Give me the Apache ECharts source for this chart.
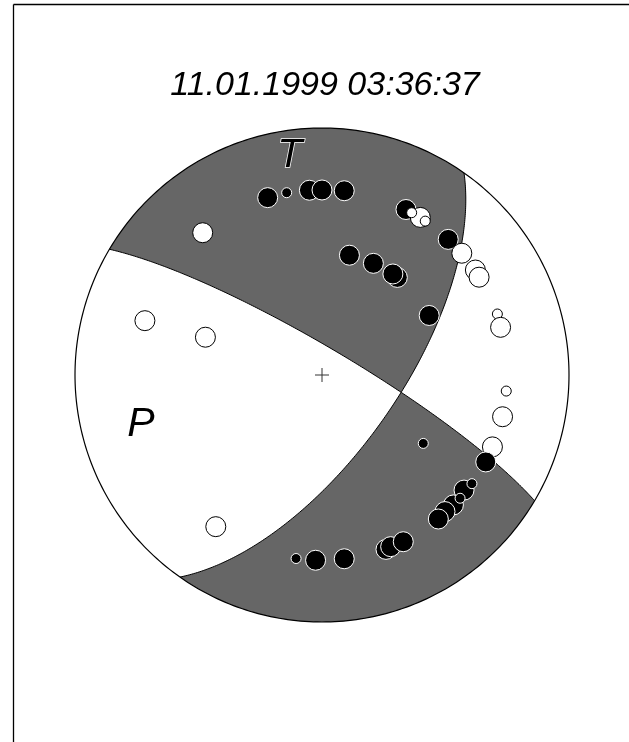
<!DOCTYPE html>
<html><head><meta charset="utf-8">
<script src="https://cdn.jsdelivr.net/npm/echarts@6/dist/echarts.min.js"></script>
<style>html,body{margin:0;padding:0;background:#fff}#c{width:629px;height:742px}</style>
</head><body><div id="c"></div>
<script>
// ---- data ----
const titleText = '11.01.1999 03:36:37';
const planeStrikes = [300.6, 35.1];   // degrees (right-hand rule)
const planeDips = [81, 65];           // degrees
const axisLabels = ['T', 'P'];
const axisLabelE = [-0.130, -0.733];  // unit-disc east coordinate
const axisLabelN = [0.887, -0.200];   // unit-disc north coordinate
// first-motion observations (unit-disc, lower hemisphere, equal-area)
const obsE = [-0.220,-0.143,-0.051,0.000,0.090,0.340,0.398,0.363,0.418,0.511,0.566,0.621,0.636,
  0.111,0.208,0.305,0.287,0.434,-0.483,-0.717,-0.472,-0.430,0.710,0.723,0.746,0.731,0.690,0.663,
  0.410,0.575,0.607,0.532,0.559,0.498,0.471,0.259,0.278,0.329,-0.105,-0.026,0.090];
const obsN = [0.718,0.738,0.748,0.749,0.746,0.670,0.638,0.657,0.623,0.549,0.493,0.425,0.396,
  0.485,0.452,0.395,0.409,0.241,0.576,0.220,0.153,-0.614,0.247,0.193,-0.065,-0.169,-0.291,-0.352,
  -0.277,-0.466,-0.440,-0.526,-0.499,-0.553,-0.583,-0.706,-0.695,-0.675,-0.743,-0.750,-0.744];
const obsPolarity = ['C','C','C','C','C','C','D','D','D','C','D','D','D',
  'C','C','C','C','C','D','D','D','D','D','D','D','D','D','C',
  'C','C','C','C','C','C','C','C','C','C','C','C','C'];
const obsSize = ['L','S','L','L','L','L','L','S','S','L','L','L','L',
  'L','L','L','L','L','L','L','L','L','S','L','S','L','L','L',
  'S','L','S','L','S','L','L','L','L','L','S','L','L'];

// ---- geometry helpers (equal-area, lower hemisphere) ----
const R = Math.PI / 180;
function planeVecs(strike, dip) {
  const s = strike * R, d = dip * R, p = s + Math.PI / 2;
  return {
    S: [Math.sin(s), Math.cos(s), 0],
    D: [Math.cos(d) * Math.sin(p), Math.cos(d) * Math.cos(p), -Math.sin(d)],
    n: [Math.sin(d) * Math.sin(p), Math.sin(d) * Math.cos(p), Math.cos(d)],
    Dh: [Math.sin(p), Math.cos(p)], d: d
  };
}
function planeCurve(strike, dip, t0, t1, n) {
  const v = planeVecs(strike, dip), pts = [];
  for (let i = 0; i <= n; i++) {
    const th = (t0 + (t1 - t0) * i / n) * R;
    const a = Math.cos(th), b = Math.sin(th) * Math.cos(v.d), sp = Math.sin(th) * Math.sin(v.d);
    const r = Math.sqrt(Math.max(0, 1 - sp)), h = Math.sqrt(a * a + b * b);
    const k = h > 1e-9 ? r / h : 0;
    pts.push([k * (a * v.S[0] + b * v.Dh[0]), k * (a * v.S[1] + b * v.Dh[1])]);
  }
  return pts;
}
function arc(az0, az1, n) {
  const pts = [];
  for (let i = 0; i <= n; i++) {
    const a = (az0 + (az1 - az0) * i / n) * R;
    pts.push([Math.sin(a), Math.cos(a)]);
  }
  return pts;
}
const dot = (a, b) => a[0] * b[0] + a[1] * b[1] + a[2] * b[2];
const cross = (a, b) => [a[1] * b[2] - a[2] * b[1], a[2] * b[0] - a[0] * b[2], a[0] * b[1] - a[1] * b[0]];
const v1 = planeVecs(planeStrikes[0], planeDips[0]);
const v2 = planeVecs(planeStrikes[1], planeDips[1]);
let B = cross(v1.n, v2.n);
if (B[2] > 0) B = B.map(x => -x);
const tB1 = Math.atan2(dot(B, v1.D), dot(B, v1.S)) / R;
const tB2 = Math.atan2(dot(B, v2.D), dot(B, v2.S)) / R;

const s1 = planeStrikes[0], s2 = planeStrikes[1];
const regionA = [].concat(
  planeCurve(s1, planeDips[0], 0, tB1, 120),
  planeCurve(s2, planeDips[1], tB2, 0, 120),
  arc(s2, s1 - 360, 180));
const regionB = [].concat(
  planeCurve(s1, planeDips[0], tB1, 180, 120),
  arc(s1 - 180, s2 + 180, 180),
  planeCurve(s2, planeDips[1], 180, tB2, 120));
const plane1 = planeCurve(s1, planeDips[0], 0, 180, 240);
const plane2 = planeCurve(s2, planeDips[1], 0, 180, 240);
const circle = arc(0, 360, 360);

function polySeries(pts, style, closed) {
  return {
    type: 'custom', coordinateSystem: 'cartesian2d', silent: true, clip: false,
    data: [[0, 0]],
    renderItem: (params, api) => ({
      type: closed ? 'polygon' : 'polyline',
      shape: { points: pts.map(p => api.coord(p)) },
      style: style
    })
  };
}

const obsData = obsE.map((e, i) => ({
  value: [e, obsN[i]],
  symbolSize: obsSize[i] === 'L' ? 20 : 10,
  itemStyle: obsPolarity[i] === 'C'
    ? { color: '#000', borderColor: '#fff', borderWidth: 1, opacity: 1 }
    : { color: '#fff', borderColor: '#000', borderWidth: 1, opacity: 1 }
}));

const chart = echarts.init(document.getElementById('c'), null, { renderer: 'canvas' });
chart.setOption({
  animation: false,
  backgroundColor: '#fff',
  grid: { left: 75, top: 128, width: 494, height: 494 },
  xAxis: { type: 'value', min: -1, max: 1, show: false },
  yAxis: { type: 'value', min: -1, max: 1, show: false },
  graphic: [
    { type: 'line', shape: { x1: 13.5, y1: 4.5, x2: 13.5, y2: 742 }, style: { stroke: '#000', lineWidth: 1.3 } },
    { type: 'line', shape: { x1: 13.5, y1: 4.5, x2: 629, y2: 4.5 }, style: { stroke: '#000', lineWidth: 1.3 } },
    { type: 'text', x: 325, y: 86, style: { text: titleText, font: 'italic 34px "Liberation Sans"', fill: '#000', align: 'center', verticalAlign: 'middle' } }
  ],
  series: [
    polySeries(circle, { fill: '#fff' }, true),
    polySeries(regionA, { fill: '#666666' }, true),
    polySeries(regionB, { fill: '#666666' }, true),
    polySeries(plane1, { fill: null, stroke: '#000', lineWidth: 1 }, false),
    polySeries(plane2, { fill: null, stroke: '#000', lineWidth: 1 }, false),
    polySeries(circle, { fill: null, stroke: '#000', lineWidth: 1.2 }, true),
    {
      type: 'custom', coordinateSystem: 'cartesian2d', silent: true,
      data: [[0, 0]],
      renderItem: (params, api) => {
        const c = api.coord([api.value(0), api.value(1)]);
        return { type: 'group', children: [
          { type: 'line', shape: { x1: c[0] - 7, y1: c[1], x2: c[0] + 7, y2: c[1] }, style: { stroke: '#333', lineWidth: 1 } },
          { type: 'line', shape: { x1: c[0], y1: c[1] - 7, x2: c[0], y2: c[1] + 7 }, style: { stroke: '#333', lineWidth: 1 } }
        ] };
      }
    },
    { type: 'scatter', symbol: 'circle', silent: true, itemStyle: { opacity: 1 }, data: obsData },
    {
      type: 'scatter', symbolSize: 0, silent: true, itemStyle: { opacity: 1 },
      data: axisLabels.map((t, i) => ({
        value: [axisLabelE[i], axisLabelN[i]], name: t,
        label: { show: true, position: 'inside', formatter: t, color: '#000', opacity: 1,
          fontFamily: 'Liberation Sans', fontStyle: 'italic', fontSize: 41,
          textBorderColor: t === 'T' ? '#fff' : 'transparent', textBorderWidth: t === 'T' ? 1.5 : 0 }
      }))
    }
  ]
});
</script></body></html>
